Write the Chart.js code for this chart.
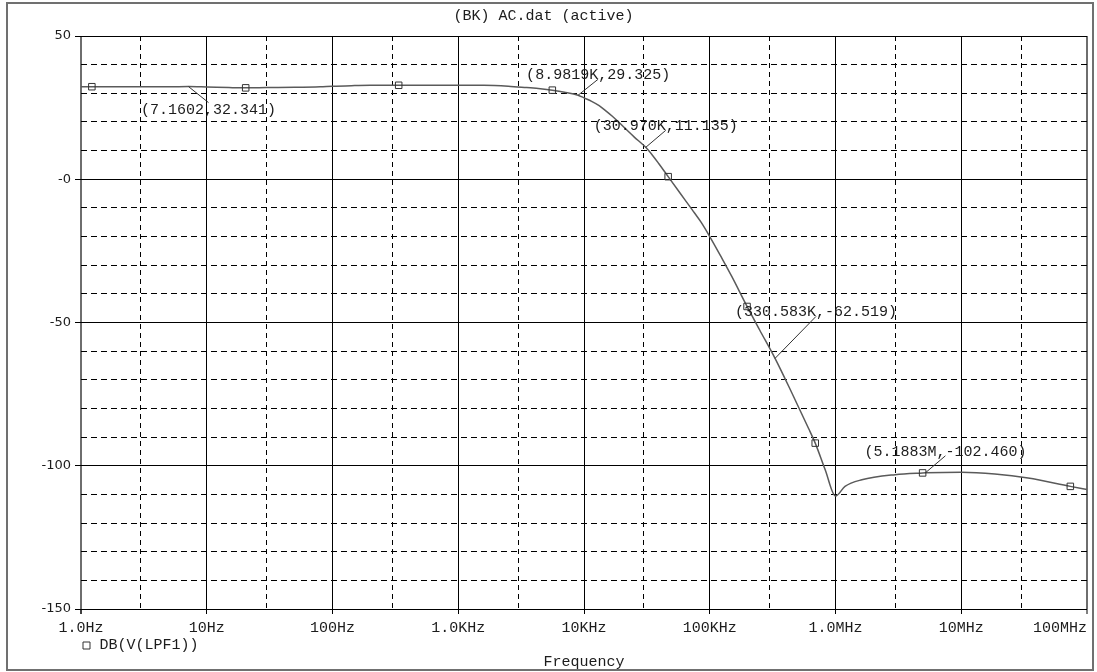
<!DOCTYPE html>
<html>
<head>
<meta charset="utf-8">
<title>(BK) AC.dat (active)</title>
<script src="https://cdn.jsdelivr.net/npm/chart.js@4.4.1/dist/chart.umd.min.js"></script>
<style>
  html, body { margin: 0; padding: 0; background: #fff; }
  #wrap { width: 1097px; height: 672px; }
</style>
</head>
<body>
<div id="wrap"><canvas id="plot" width="1097" height="672"></canvas></div>
<script>
// AC sweep of node LPF1: gain in dB against frequency in Hz
const freqHz = [
  1, 1.22, 2, 3, 5, 7.1602, 10, 15, 20.4, 30, 50, 80, 100, 150, 200, 336, 500,
  1000, 1600, 2500, 3500, 4500, 5600, 7000, 8981.9, 10000, 11500, 13200, 15000,
  16800, 19000, 21400, 25000, 30970, 35000, 39400, 46700, 58000, 72400, 85000,
  100000, 125000, 150000, 198000, 250000, 330583, 450000, 611000, 690000, 828000,
  1000000, 1190000, 1620000, 2980000, 4930000, 5188300, 10000000, 18500000,
  34000000, 73700000, 100000000
];
const gainDb = [
  32.3, 32.3, 32.3, 32.3, 32.3, 32.341, 32.2, 32.0, 31.9, 32.0, 32.1, 32.3, 32.5, 32.7, 32.8, 32.8, 32.8,
  32.8, 32.8, 32.5, 32.0, 31.6, 31.1, 30.4, 29.325, 28.4, 27.2, 25.7, 23.8,
  22.0, 19.8, 17.6, 14.8, 11.135, 8.4, 5.4, 0.9, -4.8, -10.6, -14.9,
  -20.0, -27.6, -34.0, -44.4, -52.7, -62.519, -74.6, -87.0, -92.1, -101.4,
  -110.6, -107.2, -104.9, -103.1, -102.5, -102.46, -102.3, -102.9,
  -104.3, -107.2, -108.3
];

// Trace symbols placed along the curve
const markerFreqHz = [1.22, 20.4, 336, 5600, 46700, 198000, 690000, 4930000, 73700000];
const markerDb = [32.3, 31.9, 32.8, 31.1, 0.9, -44.4, -92.1, -102.5, -107.2];

// Cursor read-outs
const cursorFreqHz = [7.1602, 8981.9, 30970, 330583, 5188300];
const cursorDb = [32.341, 29.325, 11.135, -62.519, -102.460];
const cursorText = ['(7.1602,32.341)', '(8.9819K,29.325)', '(30.970K,11.135)', '(330.583K,-62.519)', '(5.1883M,-102.460)'];

// Axis ticks
const xTickValues = [1, 10, 100, 1e3, 1e4, 1e5, 1e6, 1e7, 1e8];
const xTickLabels = ['1.0Hz', '10Hz', '100Hz', '1.0KHz', '10KHz', '100KHz', '1.0MHz', '10MHz', '100MHz'];
const xMinorValues = [3, 30, 300, 3e3, 3e4, 3e5, 3e6, 3e7];
const yTickValues = [50, 0, -50, -100, -150];
const yTickLabels = ['50', '-0', '-50', '-100', '-150'];
const yMinorStep = 10;

const MONO = '"Liberation Mono", "DejaVu Sans Mono", monospace';
const TEXT = '#1c1c1c';
const CLEAR = 'rgba(0,0,0,0)';

const isDecade = v => xTickValues.indexOf(v) >= 0;
const isEdgeX = v => v === 1 || v === 1e8;

// Page frame and white background
const framePlugin = {
  id: 'frame',
  beforeDraw(chart) {
    const c = chart.ctx;
    c.save();
    c.fillStyle = '#fff';
    c.fillRect(0, 0, chart.width, chart.height);
    c.restore();
  },
  afterDraw(chart) {
    const c = chart.ctx;
    c.save();
    c.strokeStyle = '#707070';
    c.lineWidth = 2;
    c.strokeRect(7, 3, 1086, 667);
    c.restore();
  }
};

// Cursor labels with leader lines back to the curve
const cursorPlugin = {
  id: 'cursors',
  afterDatasetsDraw(chart, args, opts) {
    const c = chart.ctx;
    const xs = chart.scales.x, ys = chart.scales.y;
    c.save();
    c.font = '15px ' + MONO;
    c.textAlign = 'center';
    c.textBaseline = 'middle';
    c.strokeStyle = '#333';
    c.lineWidth = 1;
    c.fillStyle = TEXT;
    cursorFreqHz.forEach((f, i) => {
      const px = xs.getPixelForValue(f);
      const py = ys.getPixelForValue(cursorDb[i]);
      const [dx, dy] = opts.offsets[i];
      const lx = px + dx, ly = py + dy;
      c.beginPath();
      c.moveTo(px, py);
      c.lineTo(lx, ly + (dy > 0 ? -7 : 4));
      c.stroke();
      c.fillText(cursorText[i], lx, ly);
    });
    c.restore();
  }
};

new Chart(document.getElementById('plot'), {
  type: 'line',
  data: {
    datasets: [
      {
        label: 'DB(V(LPF1))',
        data: markerFreqHz.map((f, i) => ({ x: f, y: markerDb[i] })),
        showLine: false,
        pointStyle: 'rect',
        pointRadius: 4.6,
        pointBorderWidth: 1,
        pointBorderColor: '#333',
        pointBackgroundColor: CLEAR,
        borderColor: '#333',
        backgroundColor: CLEAR
      },
      {
        label: 'trace',
        data: freqHz.map((f, i) => ({ x: f, y: gainDb[i] })),
        borderColor: '#5a5a5a',
        borderWidth: 1.5,
        pointRadius: 0,
        cubicInterpolationMode: 'monotone',
        fill: false
      }
    ]
  },
  options: {
    responsive: false,
    animation: false,
    devicePixelRatio: 1,
    events: [],
    layout: { padding: { left: 0, top: 0, right: 10, bottom: 0 } },
    plugins: {
      tooltip: { enabled: false },
      title: {
        display: true,
        text: '(BK) AC.dat (active)',
        color: TEXT,
        font: { family: MONO, size: 15, weight: 'normal', lineHeight: 1.2 },
        padding: { top: 7, bottom: 11 }
      },
      subtitle: {
        display: true,
        text: 'Frequency',
        position: 'bottom',
        fullSize: false,
        color: TEXT,
        font: { family: MONO, size: 15, weight: 'normal', lineHeight: 1 },
        padding: { top: 2, bottom: 2 }
      },
      legend: {
        display: true,
        position: 'bottom',
        align: 'start',
        fullSize: false,
        maxHeight: 15,
        labels: {
          usePointStyle: true,
          boxWidth: 11,
          boxHeight: 7,
          padding: 0,
          color: TEXT,
          font: { family: MONO, size: 15 },
          filter: item => item.datasetIndex === 0
        }
      },
      cursors: {
        offsets: [[20, 23], [20, -20], [20, -21], [41, -46], [20, -21]]
      }
    },
    scales: {
      x: {
        type: 'logarithmic',
        min: 1,
        max: 1e8,
        afterBuildTicks: s => {
          const vals = xTickValues.concat(xMinorValues).sort((a, b) => a - b);
          // leading blank tick keeps the first label centred under 'inner' alignment
          s.ticks = [{ value: 1 }].concat(vals.map(v => ({ value: v })));
        },
        afterFit: s => {
          s.height = 29;
          s.paddingLeft = 0;
          s.paddingRight = 0;
        },
        grid: {
          color: c => (c.tick && isEdgeX(c.tick.value)) ? '#6e6e6e' : '#000',
          lineWidth: c => (c.tick && isEdgeX(c.tick.value)) ? 2 : 1,
          drawTicks: true,
          tickLength: 5,
          tickWidth: 1,
          tickColor: c => (c.tick && isDecade(c.tick.value)) ? '#000' : CLEAR,
          tickBorderDash: []
        },
        border: {
          display: false,
          dash: c => (c.tick && !isDecade(c.tick.value)) ? [5, 4] : []
        },
        ticks: {
          autoSkip: false,
          maxRotation: 0,
          minRotation: 0,
          align: 'inner',
          padding: 5,
          color: TEXT,
          font: { family: MONO, size: 15, lineHeight: 1.2 },
          callback: (v, i) => {
            if (i === 0) return '';
            const k = xTickValues.indexOf(v);
            return k < 0 ? '' : xTickLabels[k];
          }
        }
      },
      y: {
        type: 'linear',
        min: -150,
        max: 50,
        afterBuildTicks: s => {
          const t = [];
          for (let v = -150; v <= 50; v += yMinorStep) t.push({ value: v });
          s.ticks = t;
        },
        afterFit: s => { s.width = 81; },
        grid: {
          color: '#000',
          lineWidth: 1,
          drawTicks: true,
          tickLength: 6,
          tickWidth: 1,
          tickColor: c => (c.tick && yTickValues.indexOf(c.tick.value) >= 0) ? '#000' : CLEAR,
          tickBorderDash: []
        },
        border: {
          display: false,
          dash: c => (c.tick && yTickValues.indexOf(c.tick.value) < 0) ? [6, 4] : []
        },
        ticks: {
          padding: 4,
          color: TEXT,
          font: { family: '"DejaVu Sans", sans-serif', size: 13 },
          callback: v => {
            const k = yTickValues.indexOf(v);
            return k < 0 ? '' : yTickLabels[k];
          }
        }
      }
    }
  },
  plugins: [framePlugin, cursorPlugin]
});
</script>
</body>
</html>
